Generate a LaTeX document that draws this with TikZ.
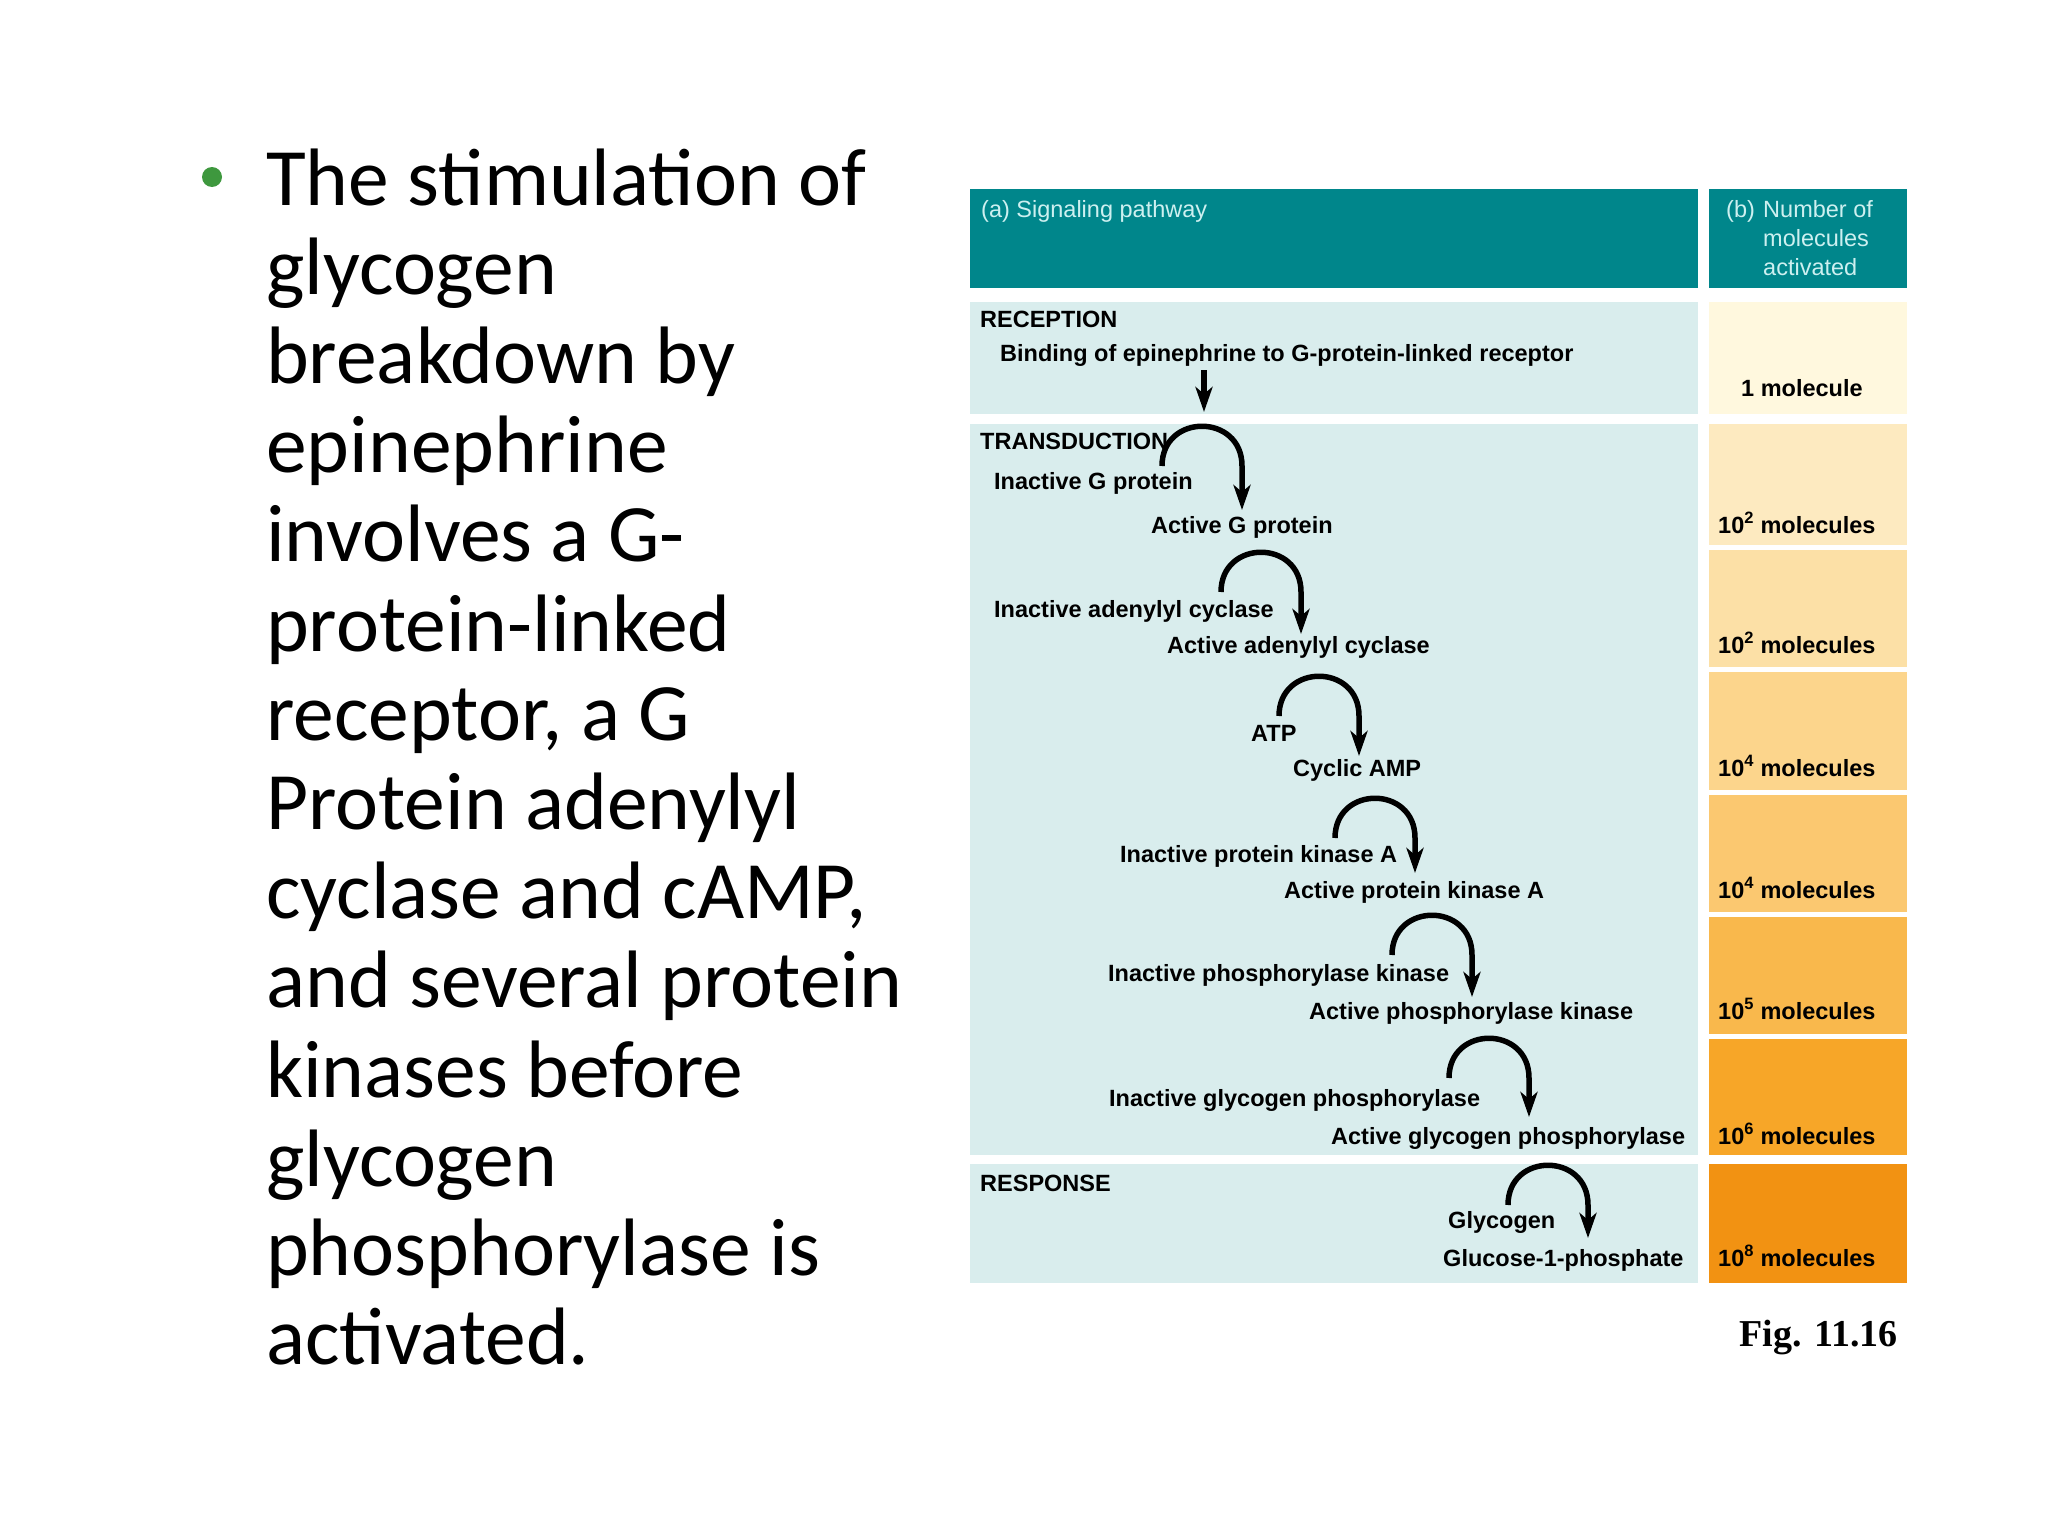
\documentclass[tikz,border=0pt]{standalone}
\usepackage{fontspec}
\setmainfont{Liberation Sans}
\newfontfamily\calib{Carlito}
\newfontfamily\figserif{Liberation Serif}
\usetikzlibrary{arrows.meta,calc}
\definecolor{headteal}{RGB}{0,134,139}
\definecolor{hdrtext}{RGB}{205,240,240}
\definecolor{paleband}{RGB}{217,237,237}
\definecolor{recyellow}{RGB}{255,248,222}
\definecolor{orA}{HTML}{FDEAC0}
\definecolor{orB}{HTML}{FCE0A6}
\definecolor{orC}{HTML}{FCD58C}
\definecolor{orD}{HTML}{FBC870}
\definecolor{orE}{HTML}{F9B84C}
\definecolor{orF}{HTML}{F7A628}
\definecolor{orG}{HTML}{F29212}
\definecolor{bulletgreen}{RGB}{62,152,62}
\begin{document}
\begin{tikzpicture}[x=1pt,y=-1pt,
  lbl/.style={anchor=base west,inner sep=0pt,font=\fontsize{23.5}{26}\selectfont\bfseries},
  hdr/.style={anchor=base west,inner sep=0pt,text=hdrtext,font=\fontsize{23.5}{26}\selectfont},
  body/.style={anchor=base west,inner sep=0pt,font=\fontsize{81.5}{90}\selectfont\calib},
  conv/.style={line width=5.5pt,-{Stealth[length=25pt,width=17pt,inset=7pt]}},
]
\useasboundingbox[fill=white] (0,0) rectangle (2048,1536);

% ---------- left bullet text ----------
\fill[bulletgreen] (212,177) circle[radius=10pt];
\node[body] (t1) at (266,205) {The stimulation of};
\node[body] (t2) at (266,294.2) {glycogen};
\node[body] (t3) at (266,383.4) {breakdown by};
\node[body] (t4) at (266,472.6) {epinephrine};
\node[body] (t5) at (266,561.8) {involves a G-};
\node[body] (t6) at (266,651) {protein-linked};
\node[body] (t7) at (266,740.2) {receptor, a G};
\node[body] (t8) at (266,829.4) {Protein adenylyl};
\node[body] (t9) at (266,918.6) {cyclase and cAMP,};
\node[body] (t10) at (266,1007.8) {and several protein};
\node[body] (t11) at (266,1097) {kinases before};
\node[body] (t12) at (266,1186.2) {glycogen};
\node[body] (t13) at (266,1275.4) {phosphorylase is};
\node[body] (t14) at (266,1364.6) {activated.};

\begin{scope}[xshift=-5pt]
% ---------- panel backgrounds ----------
\fill[headteal] (975,189) rectangle (1703,288);
\fill[headteal] (1714,189) rectangle (1912,288);
\fill[paleband] (975,302) rectangle (1703,414);
\fill[paleband] (975,424) rectangle (1703,1155);
\fill[paleband] (975,1164) rectangle (1703,1283);
\fill[recyellow] (1714,302) rectangle (1912,414);
\fill[orA] (1714,424) rectangle (1912,545);
\fill[orB] (1714,550) rectangle (1912,667);
\fill[orC] (1714,672) rectangle (1912,790);
\fill[orD] (1714,795) rectangle (1912,912);
\fill[orE] (1714,917) rectangle (1912,1034);
\fill[orF] (1714,1039) rectangle (1912,1155);
\fill[orG] (1714,1164) rectangle (1912,1283);

% ---------- headers ----------
\node[hdr] (ha) at (986,217) {(a) Signaling pathway};
\node[hdr] (hb) at (1731,217) {(b)};
\node[hdr] (hb1) at (1768,217) {Number of};
\node[hdr] (hb2) at (1768,246) {molecules};
\node[hdr] (hb3) at (1768,275) {activated};

% ---------- pathway labels ----------
\node[lbl] (rec) at (985,327) {RECEPTION};
\node[lbl] (bind) at (1005,361) {Binding of epinephrine to G-protein-linked receptor};
\node[lbl] (trans) at (985,449) {TRANSDUCTION};
\node[lbl] (igp) at (999,489) {Inactive G protein};
\node[lbl] (agp) at (1156,533) {Active G protein};
\node[lbl] (iac) at (999,617) {Inactive adenylyl cyclase};
\node[lbl] (aac) at (1172,653) {Active adenylyl cyclase};
\node[lbl] (atp) at (1256,741) {ATP};
\node[lbl] (camp) at (1298,776) {Cyclic AMP};
\node[lbl] (ipk) at (1125,862) {Inactive protein kinase A};
\node[lbl] (apk) at (1289,898) {Active protein kinase A};
\node[lbl] (iphk) at (1113,981) {Inactive phosphorylase kinase};
\node[lbl] (aphk) at (1314,1019) {Active phosphorylase kinase};
\node[lbl] (igph) at (1114,1106) {Inactive glycogen phosphorylase};
\node[lbl] (agph) at (1336,1144) {Active glycogen phosphorylase};
\node[lbl] (resp) at (985,1191) {RESPONSE};
\node[lbl] (glyc) at (1453,1228) {Glycogen};
\node[lbl] (g1p) at (1448,1266) {Glucose-1-phosphate};

% ---------- molecule counts ----------
\node[lbl] (n0) at (1746,396) {1 molecule};
\node[lbl] (n1) at (1723,533) {10\textsuperscript{2} molecules};
\node[lbl] (n2) at (1723,653) {10\textsuperscript{2} molecules};
\node[lbl] (n3) at (1723,776) {10\textsuperscript{4} molecules};
\node[lbl] (n4) at (1723,898) {10\textsuperscript{4} molecules};
\node[lbl] (n5) at (1723,1019) {10\textsuperscript{5} molecules};
\node[lbl] (n6) at (1723,1144) {10\textsuperscript{6} molecules};
\node[lbl] (n7) at (1723,1266) {10\textsuperscript{8} molecules};

% ---------- arrows ----------
\coordinate (r0s) at (1209,370);
\coordinate (r0e) at (1209,412);
\draw[conv] (r0s) -- (r0e);

\coordinate (c1s) at (1167,466); \coordinate (c1m) at (1247,466); \coordinate (c1e) at (1247,510);
\draw[conv] (c1s) .. controls +(0,-53) and +(0,-53) .. (c1m) -- (c1e);
\coordinate (c2s) at (1226,592); \coordinate (c2m) at (1306,592); \coordinate (c2e) at (1306,634);
\draw[conv] (c2s) .. controls +(0,-53) and +(0,-53) .. (c2m) -- (c2e);
\coordinate (c3s) at (1284,716); \coordinate (c3m) at (1364,716); \coordinate (c3e) at (1364,756);
\draw[conv] (c3s) .. controls +(0,-53) and +(0,-53) .. (c3m) -- (c3e);
\coordinate (c4s) at (1340,838); \coordinate (c4m) at (1420,838); \coordinate (c4e) at (1420,873);
\draw[conv] (c4s) .. controls +(0,-53) and +(0,-53) .. (c4m) -- (c4e);
\coordinate (c5s) at (1397,955); \coordinate (c5m) at (1477,955); \coordinate (c5e) at (1477,997);
\draw[conv] (c5s) .. controls +(0,-53) and +(0,-53) .. (c5m) -- (c5e);
\coordinate (c6s) at (1454,1078); \coordinate (c6m) at (1534,1078); \coordinate (c6e) at (1534,1117);
\draw[conv] (c6s) .. controls +(0,-53) and +(0,-53) .. (c6m) -- (c6e);
\coordinate (c7s) at (1513,1205); \coordinate (c7m) at (1593,1205); \coordinate (c7e) at (1593,1238);
\draw[conv] (c7s) .. controls +(0,-53) and +(0,-53) .. (c7m) -- (c7e);
\end{scope}

% ---------- figure label ----------
\node[anchor=base west,inner sep=0pt,font=\fontsize{38}{40}\selectfont\figserif\bfseries] (fig) at (1739,1346) {Fig. 11.16};
\end{tikzpicture}
\end{document}
